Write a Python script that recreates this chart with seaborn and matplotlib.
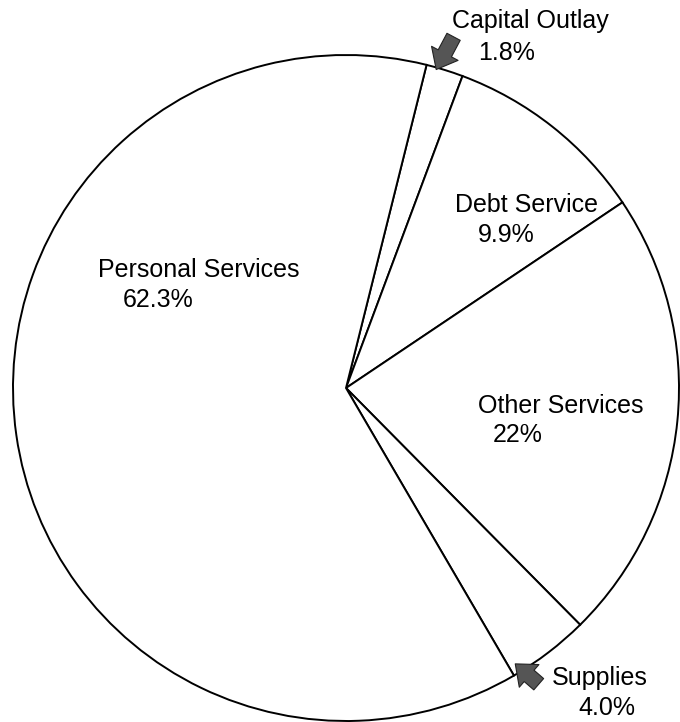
import matplotlib.pyplot as plt
import seaborn as sns

# === data ===
categories = ["Capital Outlay", "Debt Service", "Other Services", "Supplies", "Personal Services"]
shares = [1.8, 9.9, 22.0, 4.0, 62.3]
pct_labels = ["1.8%", "9.9%", "22%", "4.0%", "62.3%"]

# label anchors (name line, percent line), axes data units with pie radius 1
name_pos = [(0.318, 1.081), (0.327, 0.529), (0.396, -0.075), (0.619, -0.892), (-0.745, 0.333)]
pct_pos = [(0.396, 0.985), (0.396, 0.438), (0.441, -0.162), (0.697, -0.982), (-0.670, 0.243)]

sns.set_theme(style="white")
plt.rcParams["font.family"] = ["Liberation Sans", "DejaVu Sans"]

fig = plt.figure(figsize=(6.8, 7.22), dpi=100)
ax = fig.add_axes([0, 0, 1, 1])

ax.pie(
    shares,
    startangle=76,
    counterclock=False,
    colors=["white"] * len(shares),
    wedgeprops=dict(edgecolor="black", linewidth=1.4),
    radius=1.0,
)

for name, pct, (nx, ny), (px, py) in zip(categories, pct_labels, name_pos, pct_pos):
    ax.text(nx, ny, name, fontsize=18, ha="left", va="baseline", color="black")
    ax.text(px, py, pct, fontsize=18, ha="left", va="baseline", color="black")

# small wedges get pointer arrows
arrow_kw = dict(arrowstyle="simple,head_width=1.8,head_length=1.1,tail_width=0.9",
                fc="#555555", ec="#222222", lw=0.8)
ax.annotate("", xy=(0.267, 0.949), xytext=(0.327, 1.062), arrowprops=arrow_kw)
ax.annotate("", xy=(0.502, -0.823), xytext=(0.585, -0.895), arrowprops=arrow_kw)

ax.set_xlim(-346 / 333, (680 - 346) / 333)
ax.set_ylim(388 / 333 - 722 / 333, 388 / 333)
ax.set_aspect("equal")
ax.axis("off")

fig.savefig("out.png", dpi=100, facecolor="white")
